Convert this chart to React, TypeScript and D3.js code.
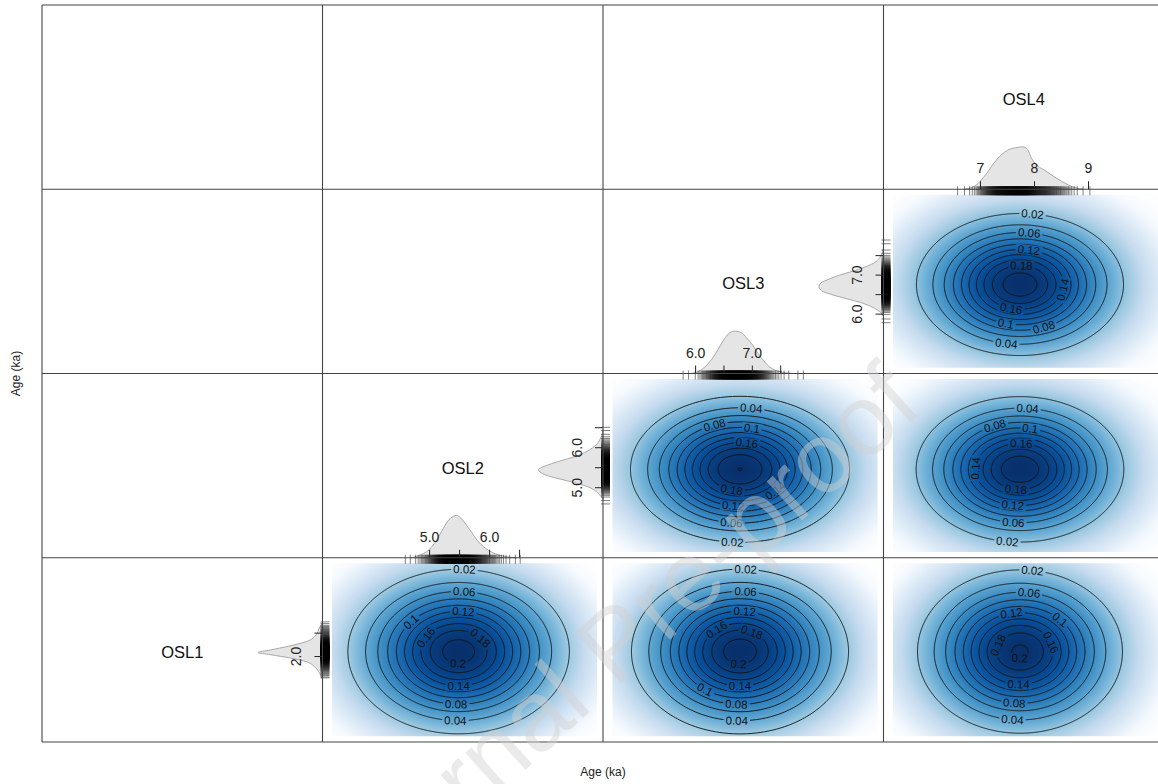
import React, { useMemo } from "react";
import * as d3 from "d3";

// ---------------- data ----------------
const VARS = ["OSL1", "OSL2", "OSL3", "OSL4"];
// range of the MCMC samples of each age (ka) = rug extent / kde limits
const RANGE_LO = [1.545, 4.595, 5.78, 6.576];
const RANGE_HI = [2.74, 6.51, 7.9, 9.026];
// parameters of the 2D density surfaces (ka)
const KDE_MEAN = [2.13, 5.51, 6.8, 7.75];
const KDE_SD = [0.262, 0.369, 0.4, 0.44];

// marginal densities (relative height)
const OSL1_AGE = [1.52, 1.6, 1.68, 1.79, 1.89, 1.97, 2.04, 2.085, 2.14, 2.21, 2.32, 2.46, 2.61, 2.72];
const OSL1_DENS = [0, 0.03, 0.06, 0.13, 0.25, 0.5, 0.81, 1.0, 0.81, 0.56, 0.25, 0.1, 0.05, 0];
const OSL2_AGE = [4.7, 4.8, 4.9, 5.0, 5.1, 5.2, 5.3, 5.4, 5.45, 5.5, 5.6, 5.7, 5.8, 5.9, 6.0, 6.1, 6.2, 6.3, 6.45];
const OSL2_DENS = [0, 0.04, 0.1, 0.2, 0.38, 0.62, 0.86, 0.98, 1.0, 0.96, 0.8, 0.6, 0.4, 0.26, 0.16, 0.09, 0.05, 0.02, 0];
const OSL3_AGE = [5.9, 6.0, 6.1, 6.2, 6.3, 6.4, 6.5, 6.6, 6.7, 6.8, 6.9, 7.0, 7.1, 7.2, 7.3, 7.4, 7.5, 7.6, 7.72];
const OSL3_DENS = [0, 0.02, 0.09, 0.2, 0.36, 0.58, 0.8, 0.96, 1.0, 0.97, 0.84, 0.68, 0.48, 0.3, 0.16, 0.08, 0.04, 0.015, 0];
const OSL4_AGE = [6.7, 6.9, 7.1, 7.3, 7.5, 7.7, 7.78, 7.86, 7.95, 8.06, 8.2, 8.3, 8.5, 8.7, 8.9];
const OSL4_DENS = [0, 0.08, 0.35, 0.7, 0.92, 0.99, 1.0, 0.96, 0.72, 0.55, 0.44, 0.35, 0.19, 0.06, 0];
const AGE_GRID = [OSL1_AGE, OSL2_AGE, OSL3_AGE, OSL4_AGE];
const DENS = [OSL1_DENS, OSL2_DENS, OSL3_DENS, OSL4_DENS];

const TICKS = [[2.0, 2.5], [5.0, 5.5, 6.0, 6.5], [6.0, 6.5, 7.0, 7.5], [7, 8, 9]];
const TICK_LABELS = [["2.0", ""], ["5.0", "", "6.0", ""], ["6.0", "", "7.0", ""], ["7", "8", "9"]];

const LEVELS = [0.02, 0.04, 0.06, 0.08, 0.1, 0.12, 0.14, 0.16, 0.18, 0.2, 0.22];
// scatter panels: x variable, y variable, peak of density surface
const PANEL_X = [3, 2, 3, 1, 2, 3];
const PANEL_Y = [2, 1, 1, 0, 0, 0];
const PANEL_PEAK = [0.213, 0.2202, 0.216, 0.21, 0.211, 0.203];

// ---------------- layout / style ----------------
const W = 1158;
const H = 784;
const GX = 42;
const GY = 5;
const CW = 280.5;
const CH = 184.25;
const colX = (c: number) => GX + c * CW;
const rowY = (r: number) => GY + r * CH;
const H_PX_PER_KA = [0, 60, 56.7, 54];
const V_PX_PER_KA = [46.8, 40, 39, 0];
const INSET = { l: 9.5, r: 6.5, t: 5.5, b: 5.5 };
// angle (deg) on each contour where its label sits, per panel (null = no label)
const LABEL_THETA: (number | null)[][] = [
  [83, 261, 83, 291, 256, 80, 350, 256, 87, null, null],
  [266, 83, 264, 111, 79, 263, 318, 80, 255, null, null],
  [263, 85, 265, 112, 80, 262, 178, 88, 262, null, null],
  [87, 268, 86, 268, 140, 85, 270, 150, 40, 268, null],
  [87, 268, 86, 267, 235, 85, 270, 129, 65, 265, null],
  [83, 265, 83, 265, 45, 100, 268, 20, 160, 268, null],
];
const BLUES = ["#FFFFFF", "#F7FBFF", "#DEEBF7", "#C6DBEF", "#9ECAE1", "#6BAED6", "#4292C6", "#2171B5", "#08519C", "#08306B"];
const FONT = "'Liberation Sans', Arial, Helvetica, sans-serif";
const LABEL_FS = 11.5;

const ramp = d3.piecewise(d3.interpolateRgb, BLUES);

function textW(s: string, fs: number) {
  let w = 0;
  for (const ch of s) w += ch === "." ? 0.278 : 0.556;
  return w * fs;
}

function densInterp(v: number) {
  return d3.scaleLinear().domain(AGE_GRID[v]).range(DENS[v]).clamp(true);
}

function rugValues(v: number, n = 340, eps = 0.012) {
  const f = densInterp(v);
  const lo = RANGE_LO[v];
  const hi = RANGE_HI[v];
  const m = 800;
  const xs: number[] = [];
  const cdf: number[] = [0];
  for (let i = 0; i <= m; i++) xs.push(lo + ((hi - lo) * i) / m);
  for (let i = 1; i <= m; i++) {
    const a = f(xs[i - 1]) + eps;
    const b = f(xs[i]) + eps;
    cdf.push(cdf[i - 1] + (a + b) / 2);
  }
  const tot = cdf[m];
  const out: number[] = [lo, hi];
  let j = 0;
  for (let k = 0; k < n; k++) {
    const q = ((k + 0.5) / n) * tot;
    while (j < m && cdf[j + 1] < q) j++;
    const t = (q - cdf[j]) / Math.max(1e-12, cdf[j + 1] - cdf[j]);
    out.push(xs[j] + t * (xs[j + 1] - xs[j]));
  }
  return out;
}

function hScale(v: number) {
  const cx = colX(v) + CW / 2;
  const mid = (RANGE_LO[v] + RANGE_HI[v]) / 2;
  const k = H_PX_PER_KA[v];
  return d3.scaleLinear().domain([mid - 1, mid + 1]).range([cx - k, cx + k]);
}
function vScale(v: number) {
  const cy = rowY(3 - v) + CH / 2;
  const mid = (RANGE_LO[v] + RANGE_HI[v]) / 2;
  const k = V_PX_PER_KA[v];
  return d3.scaleLinear().domain([mid - 1, mid + 1]).range([cy + k, cy - k]);
}

function buildPanel(k: number) {
  const xv = PANEL_X[k];
  const yv = PANEL_Y[k];
  const peak = PANEL_PEAK[k];
  const c = xv;
  const r = 3 - yv;
  const x0 = colX(c) + INSET.l;
  const y0 = rowY(r) + INSET.t;
  const w = Math.round(colX(c + 1) - INSET.r - x0);
  const h = Math.round(rowY(r + 1) - INSET.b - y0);
  const sx = d3.scaleLinear().domain([RANGE_LO[xv], RANGE_HI[xv]]).range([x0, x0 + w]);
  const sy = d3.scaleLinear().domain([RANGE_LO[yv], RANGE_HI[yv]]).range([y0 + h, y0]);
  const mx = KDE_MEAN[xv], my = KDE_MEAN[yv], sdx = KDE_SD[xv], sdy = KDE_SD[yv];
  const values = new Float64Array(w * h);
  let tmin = Infinity;
  for (let j = 0; j < h; j++) {
    const Y = sy.invert(y0 + j + 0.5);
    for (let i = 0; i < w; i++) {
      const X = sx.invert(x0 + i + 0.5);
      const zx = (X - mx) / sdx;
      const zy = (Y - my) / sdy;
      const f = peak * Math.exp(-0.5 * (zx * zx + zy * zy));
      values[j * w + i] = f;
      const t = Math.pow(f / peak, 0.25);
      if (t < tmin) tmin = t;
    }
  }
  let href = "";
  if (typeof document !== "undefined") {
    const cv = document.createElement("canvas");
    cv.width = w;
    cv.height = h;
    const ctx = cv.getContext("2d");
    if (ctx) {
      const img = ctx.createImageData(w, h);
      for (let p = 0; p < w * h; p++) {
        const t = (Math.pow(values[p] / peak, 0.25) - tmin) / (1 - tmin);
        const col = d3.rgb(ramp(Math.max(0, Math.min(1, t))));
        img.data[p * 4] = col.r;
        img.data[p * 4 + 1] = col.g;
        img.data[p * 4 + 2] = col.b;
        img.data[p * 4 + 3] = 255;
      }
      ctx.putImageData(img, 0, 0);
      href = cv.toDataURL();
    }
  }
  const levels = LEVELS.filter((l) => l < peak);
  const contours = d3.contours().size([w, h]).thresholds(levels)(Array.from(values));
  const path = d3.geoPath(d3.geoIdentity().translate([x0, y0]) as any);
  const paths = contours.map((cc) => path(cc as any) || "");

  const sxp = (sdx * w) / (RANGE_HI[xv] - RANGE_LO[xv]);
  const syp = (sdy * h) / (RANGE_HI[yv] - RANGE_LO[yv]);
  const cx = sx(mx);
  const cy = sy(my);
  const labels: { x: number; y: number; a: number; s: string; w: number }[] = [];
  levels.forEach((L, i) => {
    const th = LABEL_THETA[k][i];
    if (th === null || th === undefined) return;
    const rr = Math.sqrt(2 * Math.log(peak / L));
    const t = (th * Math.PI) / 180;
    const px = cx + sxp * rr * Math.cos(t);
    const py = cy - syp * rr * Math.sin(t);
    const tx = -sxp * Math.sin(t);
    const ty = -syp * Math.cos(t);
    let a = (Math.atan2(ty, tx) * 180) / Math.PI;
    while (a > 90) a -= 180;
    while (a <= -90) a += 180;
    const s = String(L);
    labels.push({ x: px, y: py, a, s, w: textW(s, LABEL_FS) });
  });
  return { x0, y0, w, h, href, paths, labels };
}

export default function App() {
  const panels = useMemo(() => PANEL_X.map((_, k) => buildPanel(k)), []);

  const gridLinesX = d3.range(0, 5).map((c) => colX(c));
  const gridLinesY = d3.range(0, 5).map((r) => rowY(r));

  const hVars = [1, 2, 3];
  const vVars = [0, 1, 2];

  return (
    <svg
      width={W}
      height={H}
      style={{ position: "absolute", left: 0, top: 0, background: "#fff" }}
      fontFamily={FONT}
    >
      <rect x={0} y={0} width={W} height={H} fill="#fff" />
      {panels.map((p, k) => (
        <g key={"p" + k}>
          <image href={p.href} x={p.x0} y={p.y0} width={p.w} height={p.h} preserveAspectRatio="none" />
          <mask id={"cm" + k} maskUnits="userSpaceOnUse" x={p.x0 - 5} y={p.y0 - 5} width={p.w + 10} height={p.h + 10}>
            <rect x={p.x0 - 5} y={p.y0 - 5} width={p.w + 10} height={p.h + 10} fill="#fff" />
            {p.labels.map((l, i) => (
              <rect
                key={i}
                x={l.x - l.w / 2 - 2}
                y={l.y - 5}
                width={l.w + 4}
                height={10}
                fill="#000"
                transform={`rotate(${l.a} ${l.x} ${l.y})`}
              />
            ))}
          </mask>
          <g mask={`url(#cm${k})`}>
            {p.paths.map((d, i) => (
              <path key={i} d={d} fill="none" stroke="#111" strokeWidth={0.9} />
            ))}
          </g>
          {p.labels.map((l, i) => (
            <text
              key={"l" + i}
              x={l.x}
              y={l.y}
              fontSize={LABEL_FS}
              fill="#111"
              textAnchor="middle"
              dominantBaseline="central"
              transform={`rotate(${l.a} ${l.x} ${l.y})`}
            >
              {l.s}
            </text>
          ))}
        </g>
      ))}

      {hVars.map((v) => {
        const sc = hScale(v);
        const base = rowY(4 - v);
        const hgt = 0.23 * CH;
        const area = d3
          .area<number>()
          .x((_, i) => sc(AGE_GRID[v][i]))
          .y0(base)
          .y1((d) => base - d * hgt)
          .curve(d3.curveMonotoneX);
        const rug = rugValues(v);
        return (
          <g key={"h" + v}>
            <path d={area(DENS[v]) || ""} fill="#e5e5e5" stroke="#a8a8a8" strokeWidth={1} />
            {rug.map((a, i) => (
              <line key={i} x1={sc(a)} x2={sc(a)} y1={base - 3} y2={base + 6} stroke="#000" strokeWidth={0.6} strokeOpacity={0.85} />
            ))}
            {TICKS[v].map((t, i) => (
              <g key={"t" + i}>
                <line x1={sc(t)} x2={sc(t)} y1={base} y2={base - 8} stroke="#222" strokeWidth={1} />
                {TICK_LABELS[v][i] && (
                  <text x={sc(t)} y={base - 21} fontSize={14} fill="#222" textAnchor="middle" dominantBaseline="central">
                    {TICK_LABELS[v][i]}
                  </text>
                )}
              </g>
            ))}
          </g>
        );
      })}

      {vVars.map((v) => {
        const sc = vScale(v);
        const base = colX(v + 1);
        const wid = 0.23 * CW;
        const area = d3
          .area<number>()
          .y((_, i) => sc(AGE_GRID[v][i]))
          .x0(base)
          .x1((d) => base - d * wid)
          .curve(d3.curveMonotoneY);
        const rug = rugValues(v);
        return (
          <g key={"v" + v}>
            <path d={area(DENS[v]) || ""} fill="#e5e5e5" stroke="#a8a8a8" strokeWidth={1} />
            {rug.map((a, i) => (
              <line key={i} y1={sc(a)} y2={sc(a)} x1={base - 2} x2={base + 7} stroke="#000" strokeWidth={0.6} strokeOpacity={0.85} />
            ))}
            {TICKS[v].map((t, i) => (
              <g key={"t" + i}>
                <line y1={sc(t)} y2={sc(t)} x1={base} x2={base - 8} stroke="#222" strokeWidth={1} />
                {TICK_LABELS[v][i] && (
                  <text
                    x={base - 26}
                    y={sc(t)}
                    fontSize={14}
                    fill="#222"
                    textAnchor="middle"
                    dominantBaseline="central"
                    transform={`rotate(-90 ${base - 26} ${sc(t)})`}
                  >
                    {TICK_LABELS[v][i]}
                  </text>
                )}
              </g>
            ))}
          </g>
        );
      })}

      {VARS.map((name, v) => (
        <text
          key={name}
          x={colX(v) + CW / 2}
          y={rowY(3 - v) + CH / 2 + 2}
          fontSize={16.5}
          fill="#111"
          textAnchor="middle"
          dominantBaseline="central"
        >
          {name}
        </text>
      ))}

      {gridLinesX.map((x, i) => (
        <line key={"gx" + i} x1={x} x2={x} y1={GY} y2={rowY(4)} stroke="#444" strokeWidth={1.1} />
      ))}
      {gridLinesY.map((y, i) => (
        <line key={"gy" + i} x1={GX} x2={colX(4)} y1={y} y2={y} stroke="#444" strokeWidth={1.1} />
      ))}

      <text x={colX(2)} y={772} fontSize={12} fill="#222" textAnchor="middle" dominantBaseline="central">
        Age (ka)
      </text>
      <text
        x={16}
        y={(GY + rowY(4)) / 2}
        fontSize={12}
        fill="#222"
        textAnchor="middle"
        dominantBaseline="central"
        transform={`rotate(-90 16 ${(GY + rowY(4)) / 2})`}
      >
        Age (ka)
      </text>

      <text
        x={925}
        y={410}
        fontSize={100}
        fill="#d0d0d0"
        fillOpacity={0.45}
        textAnchor="end"
        transform="rotate(-42 925 410)"
      >
        Journal Pre-proof
      </text>
    </svg>
  );
}
